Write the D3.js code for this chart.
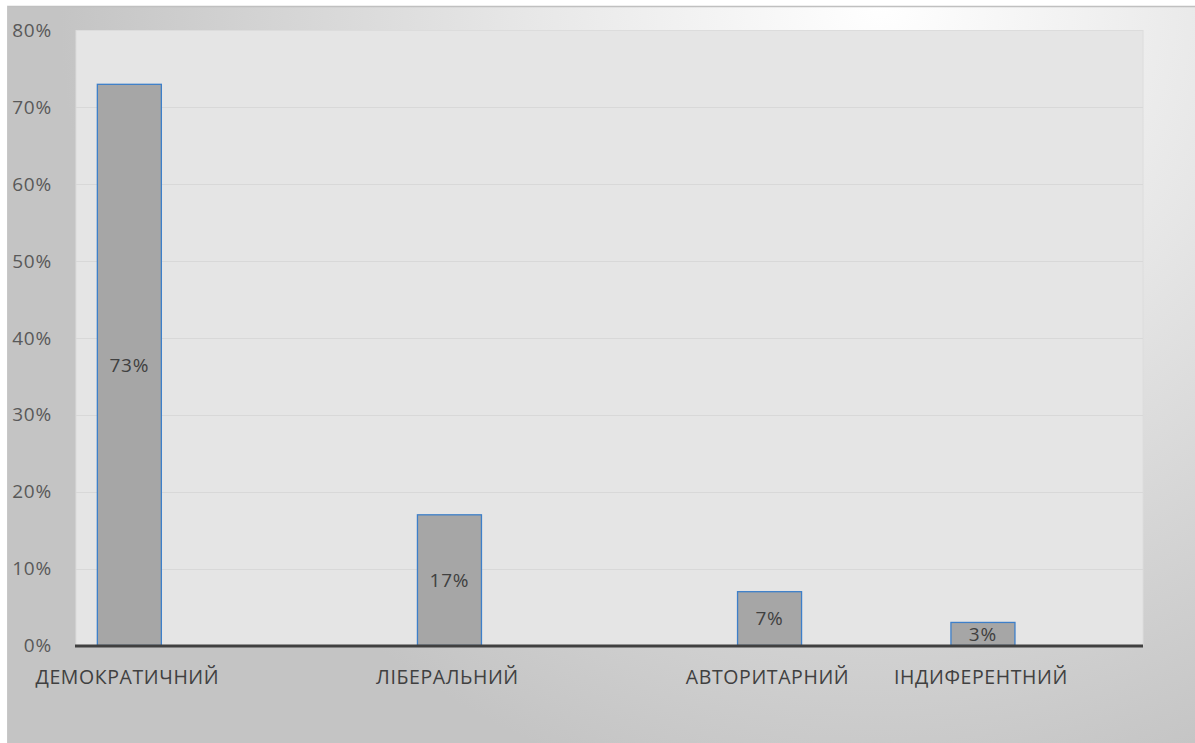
<!DOCTYPE html>
<html><head><meta charset="utf-8">
<script src="https://cdn.jsdelivr.net/npm/d3@7"></script>
<style>body{margin:0;background:#fff}svg{display:block}</style>
</head><body>
<script>
const categories = ["ДЕМОКРАТИЧНИЙ", "ЛІБЕРАЛЬНИЙ", "АВТОРИТАРНИЙ", "ІНДИФЕРЕНТНИЙ"];
const values = [73, 17, 7, 3];
const slots = [0, 3, 6, 8];          // category slot on the original (unevenly spaced) axis
const slotCount = 10;
const yTicks = [0, 10, 20, 30, 40, 50, 60, 70, 80];

const W = 1195, H = 743;
const svg = d3.select("body").append("svg").attr("width", W).attr("height", H);
const defs = svg.append("defs");
const g1 = defs.append("radialGradient").attr("id", "bg")
  .attr("gradientUnits", "userSpaceOnUse")
  .attr("cx", 880).attr("cy", 0).attr("r", 820);
g1.append("stop").attr("offset", "0").attr("stop-color", "#ffffff");
g1.append("stop").attr("offset", "0.45").attr("stop-color", "#e6e6e6");
g1.append("stop").attr("offset", "1").attr("stop-color", "#c4c4c4");

svg.append("rect").attr("x", 7).attr("y", 6).attr("width", W - 7).attr("height", H - 6)
  .attr("fill", "url(#bg)");
svg.append("line").attr("x1", 7).attr("x2", W).attr("y1", 6.5).attr("y2", 6.5)
  .attr("stroke", "#c0c0c0").attr("stroke-width", 1.5);
svg.append("line").attr("x1", 7.5).attr("x2", 7.5).attr("y1", 6).attr("y2", H)
  .attr("stroke", "#c8c8c8").attr("stroke-width", 1);

const m = {left: 76, right: 1143, top: 30.5, bottom: 645.5};
const x = d3.scaleBand().domain(d3.range(slotCount)).range([m.left, m.right]).paddingInner(0.4).paddingOuter(0.2);
const y = d3.scaleLinear().domain([0, 80]).range([m.bottom, m.top]);

svg.append("rect").attr("x", m.left).attr("y", m.top).attr("width", m.right - m.left)
  .attr("height", m.bottom - m.top).attr("fill", "#e5e5e5").attr("stroke", "#dcdcdc").attr("stroke-width", 1);

svg.append("g").selectAll("line").data(yTicks.filter(d => d > 0 && d < 80)).join("line")
  .attr("x1", m.left).attr("x2", m.right)
  .attr("y1", d => Math.round(y(d)) + 0.5).attr("y2", d => Math.round(y(d)) + 0.5)
  .attr("stroke", "#d8d8d8").attr("stroke-width", 1.2);

const yAxis = svg.append("g").attr("transform", `translate(${m.left - 24},0)`)
  .call(d3.axisLeft(y).tickValues(yTicks).tickFormat(d => d + "%").tickSize(0));
yAxis.select(".domain").remove();
yAxis.selectAll("text").attr("font-family", "Open Sans, sans-serif").attr("font-size", 19)
  .attr("letter-spacing", 0.8)
  .attr("fill", "#595959").attr("dx", 0).attr("dy", "0.32em").attr("x", 0);

const bw = x.bandwidth();
svg.append("g").selectAll("rect").data(values).join("rect")
  .attr("x", (d, i) => x(slots[i]))
  .attr("y", d => y(d))
  .attr("width", bw)
  .attr("height", d => y(0) - y(d))
  .attr("fill", "#a6a6a6").attr("stroke", "#3d7fc9").attr("stroke-width", 1.3);

svg.append("g").selectAll("text").data(values).join("text")
  .attr("x", (d, i) => x(slots[i]) + bw / 2)
  .attr("y", d => (y(d) + y(0)) / 2)
  .attr("dy", "0.36em")
  .attr("text-anchor", "middle")
  .attr("font-family", "Open Sans, sans-serif").attr("font-size", 19)
  .attr("letter-spacing", 0.8)
  .attr("fill", "#404040")
  .text(d => d + "%");

svg.append("line").attr("x1", m.left - 1).attr("x2", m.right)
  .attr("y1", y(0) + 0.5).attr("y2", y(0) + 0.5)
  .attr("stroke", "#404040").attr("stroke-width", 3);

svg.append("g").selectAll("text").data(categories).join("text")
  .attr("x", (d, i) => x(slots[i]) + bw / 2 - 2)
  .attr("y", 684)
  .attr("text-anchor", "middle")
  .attr("font-family", "Open Sans, sans-serif").attr("font-size", 19.5)
  .attr("letter-spacing", 0.6)
  .attr("fill", "#404040")
  .text(d => d);
</script>
</body></html>
